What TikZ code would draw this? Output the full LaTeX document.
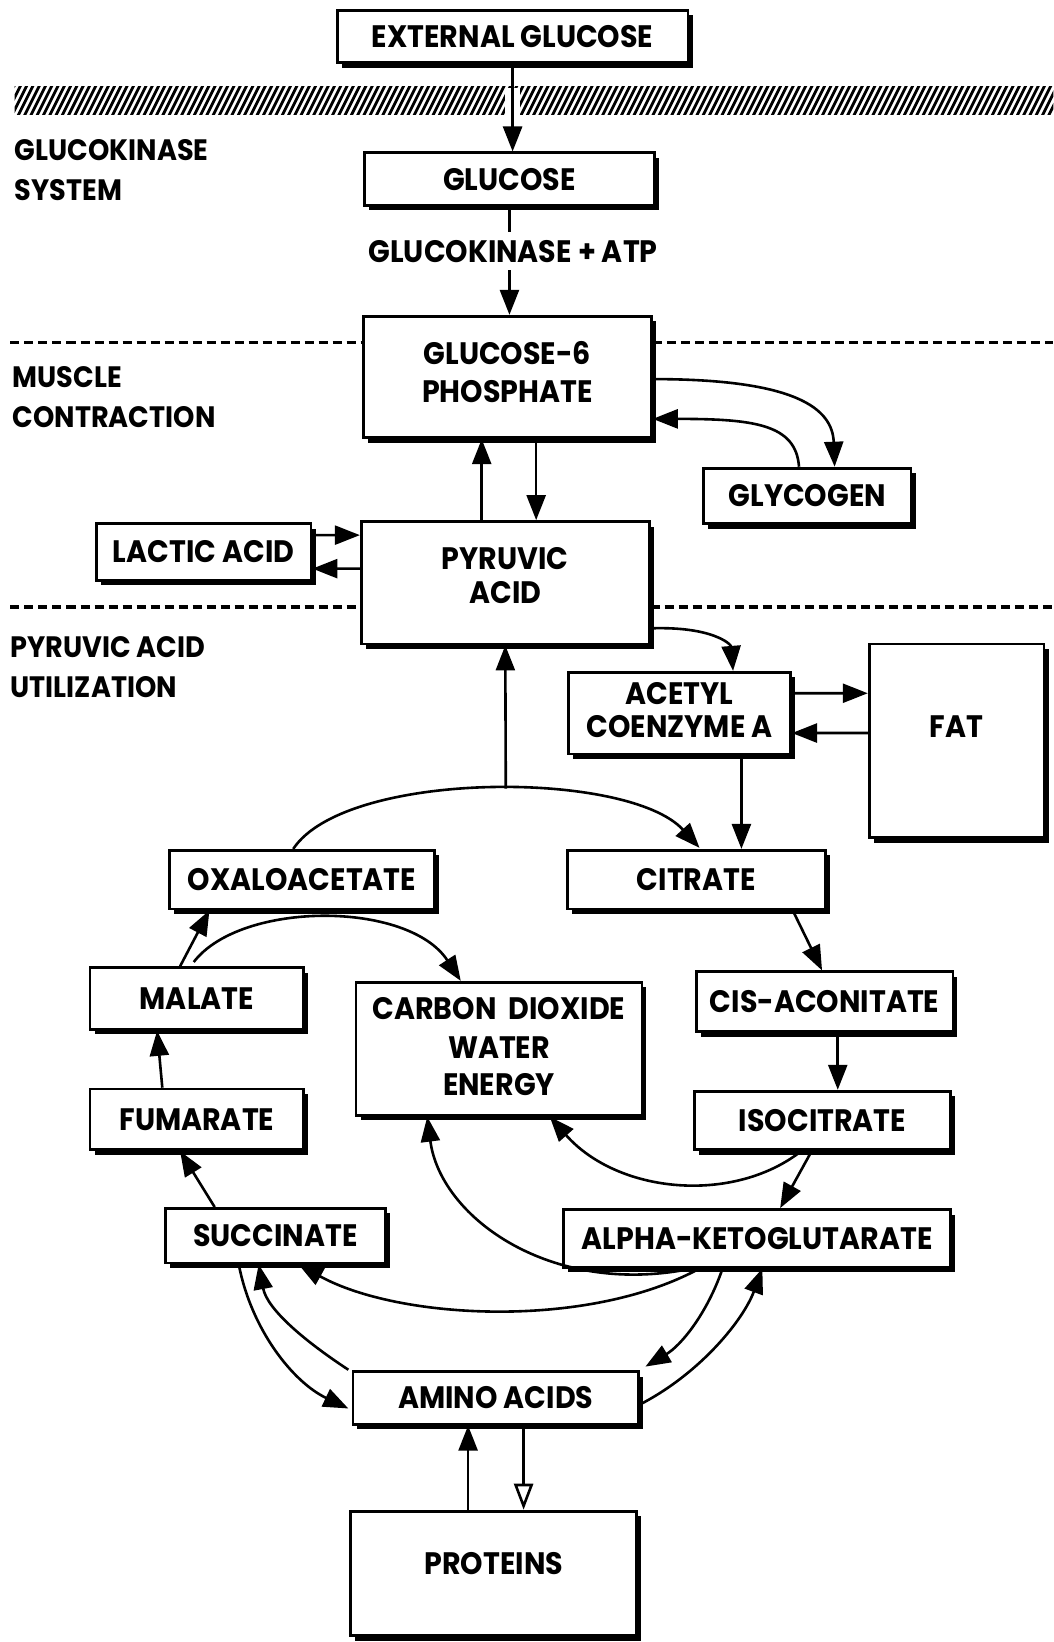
\documentclass[tikz,border=0pt]{standalone}
\usepackage{fontspec}
\setmainfont{Poppins}[FakeStretch=0.92]
\usetikzlibrary{arrows.meta,shadows,calc,fit}
\begin{document}
\begin{tikzpicture}[x=1.0467pt,y=-1.0467pt,
  txt/.style={font=\bfseries\fontsize{31}{36.5}\selectfont,inner sep=0pt},
  box/.style={draw,line width=2.8pt,fill=white,inner sep=0pt,
    drop shadow={shadow xshift=4.5pt,shadow yshift=-5pt,opacity=1,fill=black}},
  reg/.style={font=\bfseries\fontsize{29.5}{40}\selectfont,anchor=west,align=left,inner sep=0pt},
  arr/.style={line width=2.6pt,-{Triangle[length=25pt,width=19pt]}},
  oarr/.style={line width=2.6pt,-{Triangle[open,length=26pt,width=19pt,line width=2.6pt]}},
  dsh/.style={line width=3.8pt,dash pattern=on 9pt off 5pt}]
\useasboundingbox (0,0) rectangle (1006,1568);

% hatched membrane
\begin{scope}
\clip (14,83) rectangle (1006,109);
\foreach \i in {-20,-14,...,1010} \draw[line width=2.8pt] (\i,113) -- (\i+17,79);
\end{scope}

% boxes
\node[box,fit={(322,10)(657,60)}] (ext) {};
\node[box,fit={(348,146)(625,196)}] (glu) {};
\node[box,fit={(347,302)(622,418)}] (g6p) {};
\node[box,fit={(672,447)(870,500)}] (gly) {};
\node[box,fit={(345,498)(620,615)}] (pyr) {};
\node[box,fit={(92,500)(297,554)}] (lac) {};
\node[box,fit={(543,642)(755,720)}] (acc) {};
\node[box,fit={(830,615)(997,800)}] (fat) {};
\node[box,fit={(162,812)(415,868)}] (oxa) {};
\node[box,fit={(542,812)(788,868)}] (cit) {};
\node[box,fit={(665,928)(910,985)}] (cis) {};
\node[box,fit={(663,1042)(908,1098)}] (iso) {};
\node[box,fit={(86,924)(290,983)}] (mal) {};
\node[box,fit={(86,1040)(290,1098)}] (fum) {};
\node[box,fit={(340,938)(613,1065)}] (co2) {};
\node[box,fit={(158,1154)(368,1206)}] (suc) {};
\node[box,fit={(538,1155)(908,1210)}] (akg) {};
\node[box,fit={(337,1310)(610,1360)}] (ami) {};
\node[box,fit={(335,1443)(608,1562)}] (pro) {};

% box texts
\node[txt] (ext-a) at (ext.center) {EXTERNAL GLUCOSE};
\node[txt] (glu-a) at (glu.center) {GLUCOSE};
\node[txt] (g6p-a) at ($(g6p.center)+(0,-23)$) {GLUCOSE-6};
\node[txt] (g6p-b) at ($(g6p.center)+(0,14)$) {PHOSPHATE};
\node[txt] (gly-a) at (gly.center) {GLYCOGEN};
\node[txt] (pyr-a) at ($(pyr.center)+(0,-23.5)$) {PYRUVIC};
\node[txt] (pyr-b) at ($(pyr.center)+(0,9.5)$) {ACID};
\node[txt] (lac-a) at (lac.center) {LACTIC ACID};
\node[txt] (acc-a) at ($(acc.center)+(0,-19)$) {ACETYL};
\node[txt] (acc-b) at ($(acc.center)+(0,13)$) {COENZYME A};
\node[txt] (fat-a) at ($(fat.center)+(0,-13.5)$) {FAT};
\node[txt] (oxa-a) at (oxa.center) {OXALOACETATE};
\node[txt] (cit-a) at (cit.center) {CITRATE};
\node[txt] (cis-a) at (cis.center) {CIS-ACONITATE};
\node[txt] (iso-a) at (iso.center) {ISOCITRATE};
\node[txt] (mal-a) at (mal.center) {MALATE};
\node[txt] (fum-a) at (fum.center) {FUMARATE};
\node[txt] (co2-a) at ($(co2.center)+(0,-38.5)$) {CARBON\ \ DIOXIDE};
\node[txt] (co2-b) at ($(co2.center)+(0,-1.5)$) {WATER};
\node[txt] (co2-c) at ($(co2.center)+(0,34.5)$) {ENERGY};
\node[txt] (suc-a) at (suc.center) {SUCCINATE};
\node[txt] (akg-a) at (akg.center) {ALPHA-KETOGLUTARATE};
\node[txt] (ami-a) at (ami.center) {AMINO ACIDS};
\node[txt] (pro-a) at ($(pro.center)+(0,-9.5)$) {PROTEINS};

% region labels
\node[reg] (r1) at (14,162) {GLUCOKINASE\\SYSTEM};
\node[reg] (r2) at (12,379) {MUSCLE\\CONTRACTION};
\node[reg] (r3) at (10,637) {PYRUVIC ACID\\UTILIZATION};

% dashed separators
\coordinate (d1l) at (10,327); \coordinate (d1r) at (1006,327);
\coordinate (d2l) at (10,580); \coordinate (d2r) at (1006,580);
\draw[dsh] (d1l) -- ($(g6p.west)+(0,-33)$);
\draw[dsh] ($(g6p.east)+(0,-33)$) -- (d1r);
\draw[dsh] (d2l) -- ($(pyr.west)+(0,23.5)$);
\draw[dsh] ($(pyr.east)+(0,23.5)$) -- (d2r);

% connectors
\fill[white] ($(ext.south)+(-7,23)$) rectangle ($(ext.south)+(7,49)$);
\draw[arr] (ext.south) -- (ext.south |- glu.north);
\draw[arr] (glu.south) -- (glu.south |- g6p.north);
\node[txt,fill=white,inner xsep=3pt,inner ysep=8pt] (gk) at (490,240) {GLUCOKINASE + ATP};

\draw[arr] ($(g6p.east)+(0,2)$) .. controls (760,362) and (795,390) .. ($(gly.north)+(26,0)$);
\draw[arr] ($(gly.north)+(-8,0)$) .. controls (760,405) and (720,400) .. ($(g6p.east)+(0,40)$);
\draw[arr] ($(pyr.north)+(-22.5,0)$) -- ($(g6p.south)+(-24.5,0)$);
\draw[arr] ($(g6p.south)+(27.5,0)$) -- ($(pyr.north)+(29.5,0)$);
\draw[arr] ($(lac.east)+(0,-16)$) -- ($(pyr.west)+(0,-45.5)$);
\draw[arr] ($(pyr.west)+(0,-13.5)$) -- ($(lac.east)+(0,16)$);

\draw[arr] ($(acc.east)+(0,-19)$) -- ($(fat.west)+(0,-45.5)$);
\draw[arr] ($(fat.west)+(0,-7.5)$) -- ($(acc.east)+(0,19)$);
\draw[arr] ($(pyr.east)+(0,43.5)$) .. controls (680,598) and (698,615) .. ($(acc.north)+(51,0)$);
\draw[arr] ($(acc.south)+(59,0)$) -- ($(cit.north)+(43,0)$);

\draw[arr] ($(oxa.north)+(-8.5,0)$) .. controls (330,735) and (600,735) .. ($(cit.north)+(3,-1)$);
\coordinate (join) at (483,753);
\draw[arr] (join) -- (pyr.south);

\draw[arr] ($(cit.south)+(92,0)$) -- ($(cis.north)+(-2.5,0)$);
\draw[arr] ($(cis.south)+(12.5,0)$) -- ($(iso.north)+(14.5,0)$);
\draw[arr] ($(fum.north)+(-33,0)$) -- ($(mal.south)+(-38,0)$);
\draw[arr] ($(mal.north)+(-16,0)$) -- ($(oxa.south)+(-88.5,0)$);
\draw[arr] ($(mal.north)+(-3,-4)$) .. controls (230,860) and (390,860) .. ($(co2.north)+(-36.5,0)$);

\draw[arr] ($(suc.north)+(-58,0)$) -- ($(fum.south)+(-16,0)$);
\draw[arr] ($(iso.south)+(-10.5,0)$) -- ($(akg.north)+(22,0)$);
\draw[arr] ($(iso.south)+(-20.5,0)$) .. controls (700,1150) and (590,1140) .. ($(co2.south)+(48.5,0)$);
\draw[arr] ($(akg.south)+(-73,2)$) .. controls (520,1235) and (420,1160) .. ($(co2.south)+(-68.5,0)$);
\draw[arr] ($(akg.south)+(-55,0)$) .. controls (560,1270) and (380,1260) .. ($(suc.south)+(22,0)$);

\draw[arr] ($(suc.south)+(-35,0)$) .. controls (240,1270) and (280,1320) .. ($(ami.west)+(-3,10)$);
\draw[arr] ($(ami.west)+(-3,-27)$) .. controls (290,1280) and (255,1250) .. ($(suc.south)+(-16,0)$);
\draw[arr] ($(akg.south)+(-33,0)$) .. controls (675,1255) and (650,1285) .. ($(ami.east)+(5,-30)$);
\draw[arr] ($(ami.east)+(2,5)$) .. controls (670,1310) and (710,1260) .. ($(akg.south)+(5,0)$);

\draw[arr] ($(pro.north)+(-24.5,0)$) -- ($(ami.south)+(-26.5,0)$);
\draw[oarr] ($(ami.south)+(26.5,0)$) -- ($(pro.north)+(28.5,0)$);
\end{tikzpicture}
\end{document}
